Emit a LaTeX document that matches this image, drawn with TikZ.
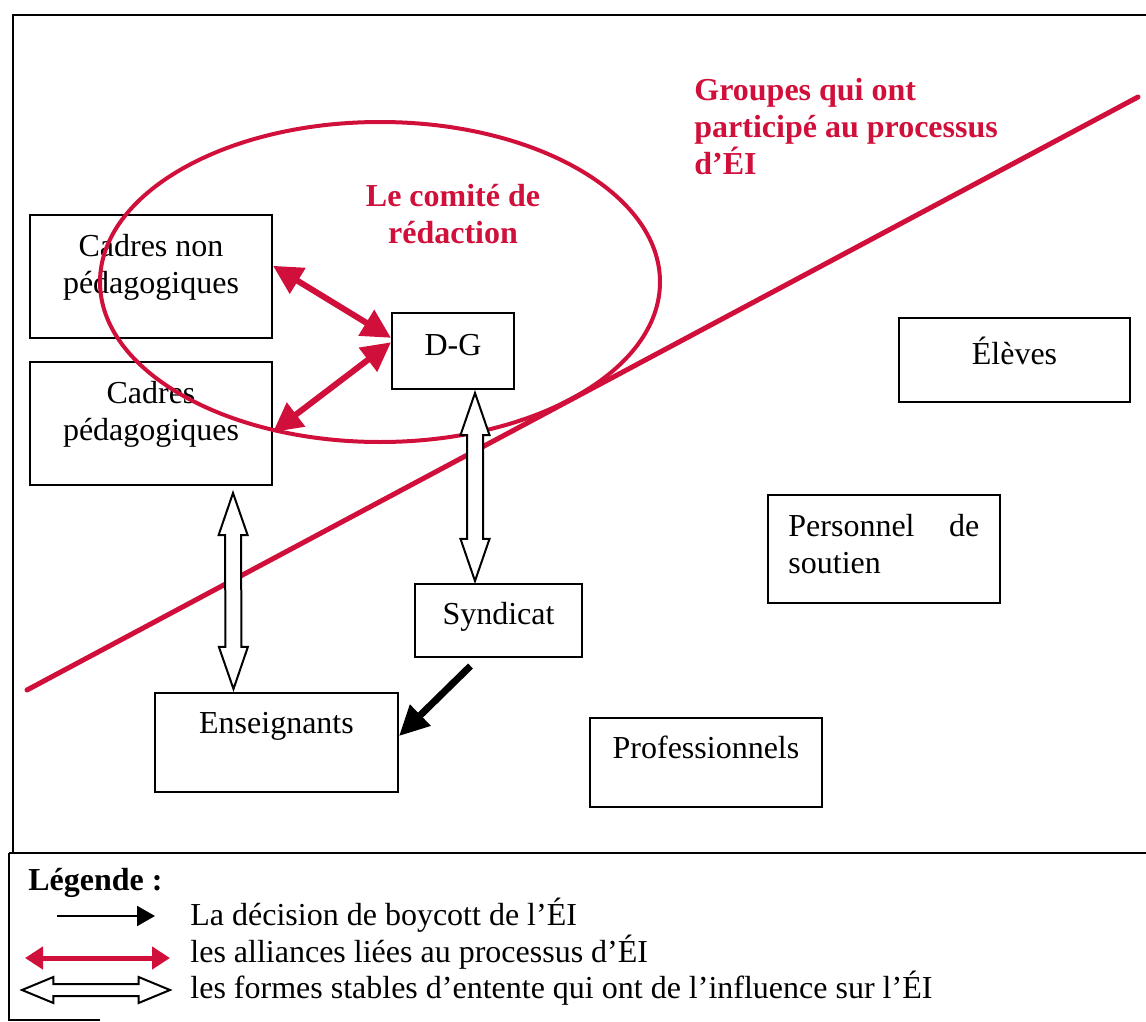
\documentclass[tikz,border=0pt]{standalone}
\usepackage{fontspec}
\setmainfont{Liberation Serif}
\usetikzlibrary{arrows.meta,positioning,calc,shapes.arrows}
\definecolor{comitered}{HTML}{D0103A}
\newcommand\grpsize{\fontsize{16}{18.5}\selectfont}

\tikzset{
  grp/.style={draw, line width=1pt, inner sep=0pt},
  lbl/.style={inner sep=0pt, align=center, font=\grpsize},
  redlbl/.style={inner sep=0pt, comitered, font=\grpsize\bfseries},
  hollow/.style={double arrow, draw, line width=1pt, fill=white, inner sep=0pt,
    inner ysep=3.5pt, double arrow head extend=3.25pt, double arrow tip angle=38,
    minimum width=0pt},
  alliance/.style={comitered, line width=3pt,
    {Triangle[length=14.5pt,width=14.5pt]}-{Triangle[length=14.5pt,width=14.5pt]}},
  boycott/.style={line width=3.5pt, -{Triangle[length=15pt,width=14pt]}},
}
% hollow double arrow between two points
\newcommand\stablelink[3][]{%
  \path let \p1=($(#3)-(#2)$), \n1={veclen(\x1,\y1)} in
    (#2) -- (#3) node[midway, sloped, hollow, #1, minimum height=\n1] {};}

\begin{document}
\begin{tikzpicture}[x=0.5pt,y=-0.5pt]
    \useasboundingbox (0,0) rectangle (1146,1022);
    % frame and legend box
    \draw[line width=1.2pt] (1146,15) -- (13,15) -- (13,853);
    \draw[line width=1.2pt] (9,853) -- (1146,853);
    \draw[line width=1.2pt] (9,853) -- (9,1020) -- (100,1020);

    % groups
    \node[grp, minimum width=121pt, minimum height=61.5pt] (cnp) at (151,276.5) {};
    \node[grp, minimum width=121pt, minimum height=61.5pt] (cp) at (151,423.5) {};
    \node[grp, minimum width=61pt, minimum height=38pt] (dg) at (453,351) {};
    \node[grp, minimum width=115.5pt, minimum height=42pt] (elv) at (1014.5,360) {};
    \node[grp, minimum width=116pt, minimum height=54pt] (pds) at (884,549) {};
    \node[grp, minimum width=83.5pt, minimum height=36.5pt] (syn) at (498.5,620.5) {};
    \node[grp, minimum width=121.5pt, minimum height=49.5pt] (ens) at (276.5,742.5) {};
    \node[grp, minimum width=116pt, minimum height=44.5pt] (pro) at (706,762.5) {};

    \node[lbl, below=10pt of cnp.north] (cnpt) {Cadres non\\pédagogiques};
    \node[lbl, below=10pt of cp.north] (cpt) {Cadres\\pédagogiques};
    \node[lbl, below=11pt of dg.north] (dgt) {D-G};
    \node[lbl, below=10pt of elv.north] (elvt) {Élèves};
    \node[lbl, align=left, text width=95.5pt, below right=10pt and 10.5pt of pds.north west] (pdst)
      {Personnel \hfill de\\soutien};
    \node[lbl, below=9.5pt of syn.north] (synt) {Syndicat};
    \node[lbl, below=10pt of ens.north] (enst) {Enseignants};
    \node[lbl, below=9.5pt of pro.north] (prot) {Professionnels};

    % comite and participation line
    \draw[comitered, line width=2pt] (380,282) ellipse [x radius=280, y radius=160];
    \draw[comitered, line width=2.5pt, line cap=round] (27,690) -- (1138,97);
    \node[redlbl, align=center, anchor=north] (comt) at (453,184) {Le comité de\\rédaction};
    \node[redlbl, align=left, anchor=north west] (grt) at (694,78)
      {Groupes qui ont\\participé au processus\\d’ÉI};

    % links
    \coordinate (s1a) at ($(cp.south)+(82,7)$);
    \coordinate (s1b) at ($(ens.north)+(-43,-3)$);
    \coordinate (s2a) at ($(dg.south)+(22,3)$);
    \coordinate (s2b) at ($(syn.north)+(-23.5,-2)$);
    \stablelink{s1a}{s1b}
    \stablelink{s2a}{s2b}
    \draw[alliance] (cnp.5) -- (dg.168);
    \draw[alliance] (dg.172) -- (cp.-4);
    \draw[boycott] ($(syn.south)+(-28,8)$) -- (ens.3);

    % legend
    \node[lbl, anchor=base west, font=\grpsize\bfseries] (leg) at (28,890) {Légende :};
    \coordinate (k1a) at (57,916);
    \coordinate (k1b) at (155,916);
    \coordinate (k2a) at (25,958);
    \coordinate (k2b) at (170,958);
    \coordinate (k3a) at (22,990);
    \coordinate (k3b) at (170,990);
    \draw[line width=1pt, -{Triangle[length=9pt,width=10pt]}] (k1a) -- (k1b);
    \draw[comitered, line width=2.5pt,
      {Triangle[length=9pt,width=11pt]}-{Triangle[length=9pt,width=11pt]}] (k2a) -- (k2b);
    \stablelink[inner ysep=2.5pt, double arrow head extend=3.5pt, double arrow tip angle=45]{k3a}{k3b}
    \node[lbl, anchor=base west] (leg1) at (190,925) {La décision de boycott de l’ÉI};
    \node[lbl, anchor=base west] (leg2) at (190,962) {les alliances liées au processus d’ÉI};
    \node[lbl, anchor=base west] (leg3) at (190,998) {les formes stables d’entente qui ont de l’influence sur l’ÉI};
\end{tikzpicture}
\end{document}
